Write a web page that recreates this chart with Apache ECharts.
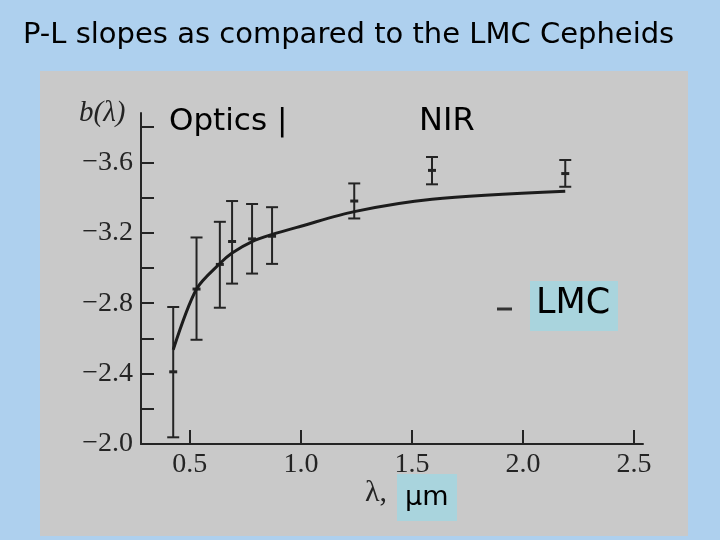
<!DOCTYPE html>
<html>
<head>
<meta charset="utf-8">
<script src="https://cdn.jsdelivr.net/npm/echarts@6/dist/echarts.min.js"></script>
<style>
  html, body { margin: 0; padding: 0; background: #aed0ee; }
  #chart { width: 720px; height: 540px; }
</style>
</head>
<body>
<div id="chart"></div>
<script>
// measured Cepheid P-L slopes b(lambda) with error bars
const wavelengths = [0.425, 0.53, 0.635, 0.69, 0.78, 0.87, 1.24, 1.59, 2.19]
const slopes = [-2.41, -2.88, -3.02, -3.15, -3.165, -3.18, -3.38, -3.554, -3.536]
const errLower = [-2.038, -2.592, -2.774, -2.911, -2.968, -3.023, -3.281, -3.475, -3.461]
const errUpper = [-2.778, -3.173, -3.262, -3.38, -3.363, -3.345, -3.48, -3.63, -3.613]

// LMC relation curve
const lmcX = [0.425, 0.53, 0.635, 0.69, 0.78, 0.87, 1.0, 1.24, 1.59, 2.19]
const lmcY = [-2.535, -2.88, -3.025, -3.085, -3.15, -3.19, -3.237, -3.32, -3.39, -3.435]

const xTicks = [0.5, 1.0, 1.5, 2.0, 2.5]
const yLabels = [-3.6, -3.2, -2.8, -2.4, -2.0]
const yTicks = [-3.8, -3.6, -3.4, -3.2, -3.0, -2.8, -2.6, -2.4, -2.2, -2.0]

const ink = '#242424'
const chart = echarts.init(document.getElementById('chart'))

function fmtY(v) {
  return (v < 0 ? '\u2212' : '') + Math.abs(v).toFixed(1)
}

chart.setOption({
  backgroundColor: '#aed0ee',
  animation: false,
  title: {
    text: 'P-L slopes as compared to the LMC Cepheids',
    left: 18,
    top: 16,
    textStyle: { fontFamily: 'DejaVu Sans', fontSize: 29, fontWeight: 'normal', color: '#000' }
  },
  grid: { left: 141, right: 77, top: 113, bottom: 96 },
  xAxis: {
    type: 'value',
    min: 0.28,
    max: 2.54,
    axisLine: { lineStyle: { color: ink, width: 2 } },
    axisTick: { inside: true, length: 14, customValues: xTicks, lineStyle: { color: ink, width: 2 } },
    axisLabel: {
      customValues: xTicks,
      formatter: (v) => v.toFixed(1),
      fontFamily: 'Liberation Serif',
      fontSize: 28,
      color: ink,
      margin: 7
    },
    splitLine: { show: false }
  },
  yAxis: {
    type: 'value',
    inverse: true,
    min: -3.88,
    max: -2.0,
    axisLine: { lineStyle: { color: ink, width: 2 } },
    axisTick: { inside: true, length: 13, customValues: yTicks, lineStyle: { color: ink, width: 2 } },
    axisLabel: {
      customValues: yLabels,
      formatter: fmtY,
      fontFamily: 'Liberation Serif',
      fontSize: 28,
      color: ink,
      margin: 8
    },
    splitLine: { show: false }
  },
  graphic: [
    {
      type: 'rect',
      z: -10,
      shape: { x: 40, y: 71, width: 648, height: 465 },
      style: { fill: '#c9c9c9' }
    },
    {
      type: 'text',
      left: 79, top: 99,
      style: { text: 'b(\u03bb)', font: 'italic 29px "Liberation Serif"', fill: ink }
    },
    {
      type: 'text',
      left: 169, top: 106,
      style: { text: 'Optics |', font: '31px "DejaVu Sans"', fill: '#000' }
    },
    {
      type: 'text',
      left: 419, top: 106,
      style: { text: 'NIR', font: '32px "DejaVu Sans"', fill: '#000' }
    },
    {
      type: 'line',
      shape: { x1: 497, y1: 309, x2: 512, y2: 309 },
      style: { stroke: '#333', lineWidth: 3 }
    },
    {
      type: 'rect',
      shape: { x: 530, y: 281, width: 88, height: 50 },
      style: { fill: '#a9d4dd' }
    },
    {
      type: 'text',
      left: 536, top: 286,
      style: { text: 'LMC', font: '35px "DejaVu Sans"', fill: '#000' }
    },
    {
      type: 'text',
      left: 365, top: 478,
      style: { text: '\u03bb,', font: '30px "Liberation Serif"', fill: ink }
    },
    {
      type: 'rect',
      shape: { x: 397, y: 474, width: 60, height: 47 },
      style: { fill: '#a9d4dd' }
    },
    {
      type: 'text',
      left: 405, top: 484,
      style: { text: '\u03bcm', font: '27px "DejaVu Sans"', fill: '#000' }
    }
  ],
  series: [
    {
      type: 'line',
      data: lmcX.map((x, i) => [x, lmcY[i]]),
      smooth: 0.3,
      symbol: 'none',
      lineStyle: { color: '#1c1c1c', width: 3 }
    },
    {
      type: 'custom',
      data: wavelengths.map((x, i) => [x, errLower[i], errUpper[i], slopes[i]]),
      renderItem: function (params, api) {
        const x = api.value(0)
        const top = api.coord([x, api.value(2)])
        const bot = api.coord([x, api.value(1)])
        const mid = api.coord([x, api.value(3)])
        const cap = 6
        const st = { stroke: ink, lineWidth: 2 }
        return {
          type: 'group',
          children: [
            { type: 'line', shape: { x1: top[0], y1: top[1], x2: bot[0], y2: bot[1] }, style: st },
            { type: 'line', shape: { x1: top[0] - cap, y1: top[1], x2: top[0] + cap, y2: top[1] }, style: st },
            { type: 'line', shape: { x1: bot[0] - cap, y1: bot[1], x2: bot[0] + cap, y2: bot[1] }, style: st },
            { type: 'line', shape: { x1: mid[0] - 4, y1: mid[1], x2: mid[0] + 4, y2: mid[1] }, style: { stroke: ink, lineWidth: 3 } }
          ]
        }
      }
    }
  ]
})
</script>
</body>
</html>
